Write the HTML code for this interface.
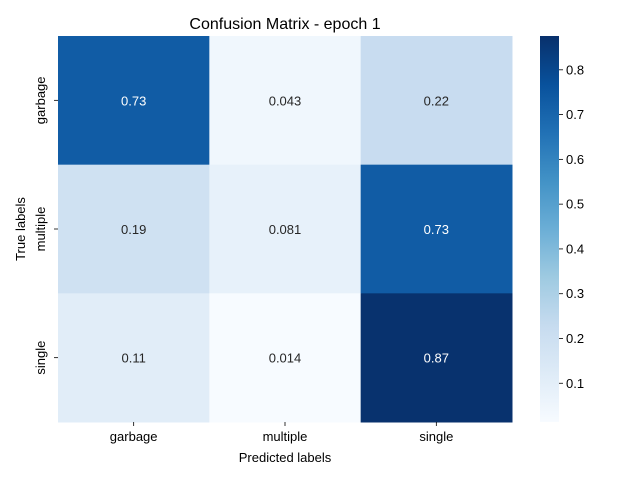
<!DOCTYPE html>
<html><head><meta charset="utf-8"><style>
body{margin:0;background:#fff;}
svg{display:block;font-family:"Liberation Sans","DejaVu Sans",sans-serif;}
</style></head><body>
<svg id="chart" width="640" height="480">
<defs><linearGradient id="cbgrad" x1="0" y1="1" x2="0" y2="0"></linearGradient></defs>
<text x="285" y="29" font-size="16" text-anchor="middle" fill="#000">Confusion Matrix - epoch 1</text>
<g id="cells"></g>
<g id="axes"></g>
<text x="285" y="462" font-size="13" text-anchor="middle">Predicted labels</text>
<text transform="translate(25,229) rotate(-90)" font-size="13" text-anchor="middle">True labels</text>
<rect x="540" y="36" width="19" height="386" fill="url(#cbgrad)"></rect>
<g id="cbticks"></g>
</svg>
<script>
const categories = ["garbage","multiple","single"];
const matrix = [[0.73,0.043,0.22],[0.19,0.081,0.73],[0.11,0.014,0.87]];
const labels = [["0.73","0.043","0.22"],["0.19","0.081","0.73"],["0.11","0.014","0.87"]];
const cbTicks = [0.1,0.2,0.3,0.4,0.5,0.6,0.7,0.8];
const vmin = 0.0135, vmax = 0.8755;

const NS="http://www.w3.org/2000/svg";
const X0=58,X1=512,Y0=36,Y1=422;
const cw=(X1-X0)/categories.length, ch=(Y1-Y0)/categories.length;
const stops=["#f7fbff","#deebf7","#c6dbef","#9ecae1","#6baed6","#4292c6","#2171b5","#08519c","#08306b"];
function hex(h){return [1,3,5].map(i=>parseInt(h.substr(i,2),16));}
function cmap(t){t=Math.max(0,Math.min(1,t));const p=t*8,i=Math.min(7,Math.floor(p)),f=p-i;const a=hex(stops[i]),b=hex(stops[i+1]);return "rgb("+a.map((v,k)=>Math.round(v+(b[k]-v)*f)).join(",")+")";}
function norm(v){return (v-vmin)/(vmax-vmin);}
function yCb(v){return Y1-norm(v)*(Y1-Y0);}
function mk(tag,attrs,parent){const e=document.createElementNS(NS,tag);for(const k in attrs)e.setAttribute(k,attrs[k]);parent.appendChild(e);return e;}

const grad=document.getElementById("cbgrad");
stops.forEach((c,i)=>mk("stop",{offset:(i/8),"stop-color":c},grad));

const cells=document.getElementById("cells");
matrix.forEach((row,r)=>row.forEach((v,c)=>{
  const rect=mk("rect",{x:X0+c*cw,y:Y0+r*ch,width:cw+0.5,height:ch+0.5,fill:cmap(norm(v))},cells);
  
  
  const t=mk("text",{x:X0+(c+0.5)*cw,y:Y0+(r+0.5)*ch+5,"font-size":13,"text-anchor":"middle",fill:norm(v)>0.6?"#fff":"#262626"},cells);
  t.textContent=labels[r][c];
  
  
}));

const axes=document.getElementById("axes");
categories.forEach((cat,i)=>{
  const x=X0+(i+0.5)*cw;
  mk("line",{x1:x,y1:Y1,x2:x,y2:Y1+4,stroke:"#000","stroke-width":0.8},axes);
  const t=mk("text",{x:x,y:Y1+19,"font-size":13,"text-anchor":"middle"},axes);
  t.textContent=cat;
  
  
  const y=Y0+(i+0.5)*ch;
  mk("line",{x1:X0-4,y1:y,x2:X0,y2:y,stroke:"#000","stroke-width":0.8},axes);
  const u=mk("text",{transform:"translate("+(X0-13)+","+y+") rotate(-90)","font-size":13,"text-anchor":"middle"},axes);
  u.textContent=cat;
  
  
});

const cbt=document.getElementById("cbticks");
cbTicks.forEach(v=>{
  const y=yCb(v);
  mk("line",{x1:559,y1:y,x2:563,y2:y,stroke:"#000","stroke-width":0.8},cbt);
  const t=mk("text",{x:566,y:y+4.5,"font-size":13},cbt);
  t.textContent=v.toFixed(1);
  
  
});
</script>
</body></html>
